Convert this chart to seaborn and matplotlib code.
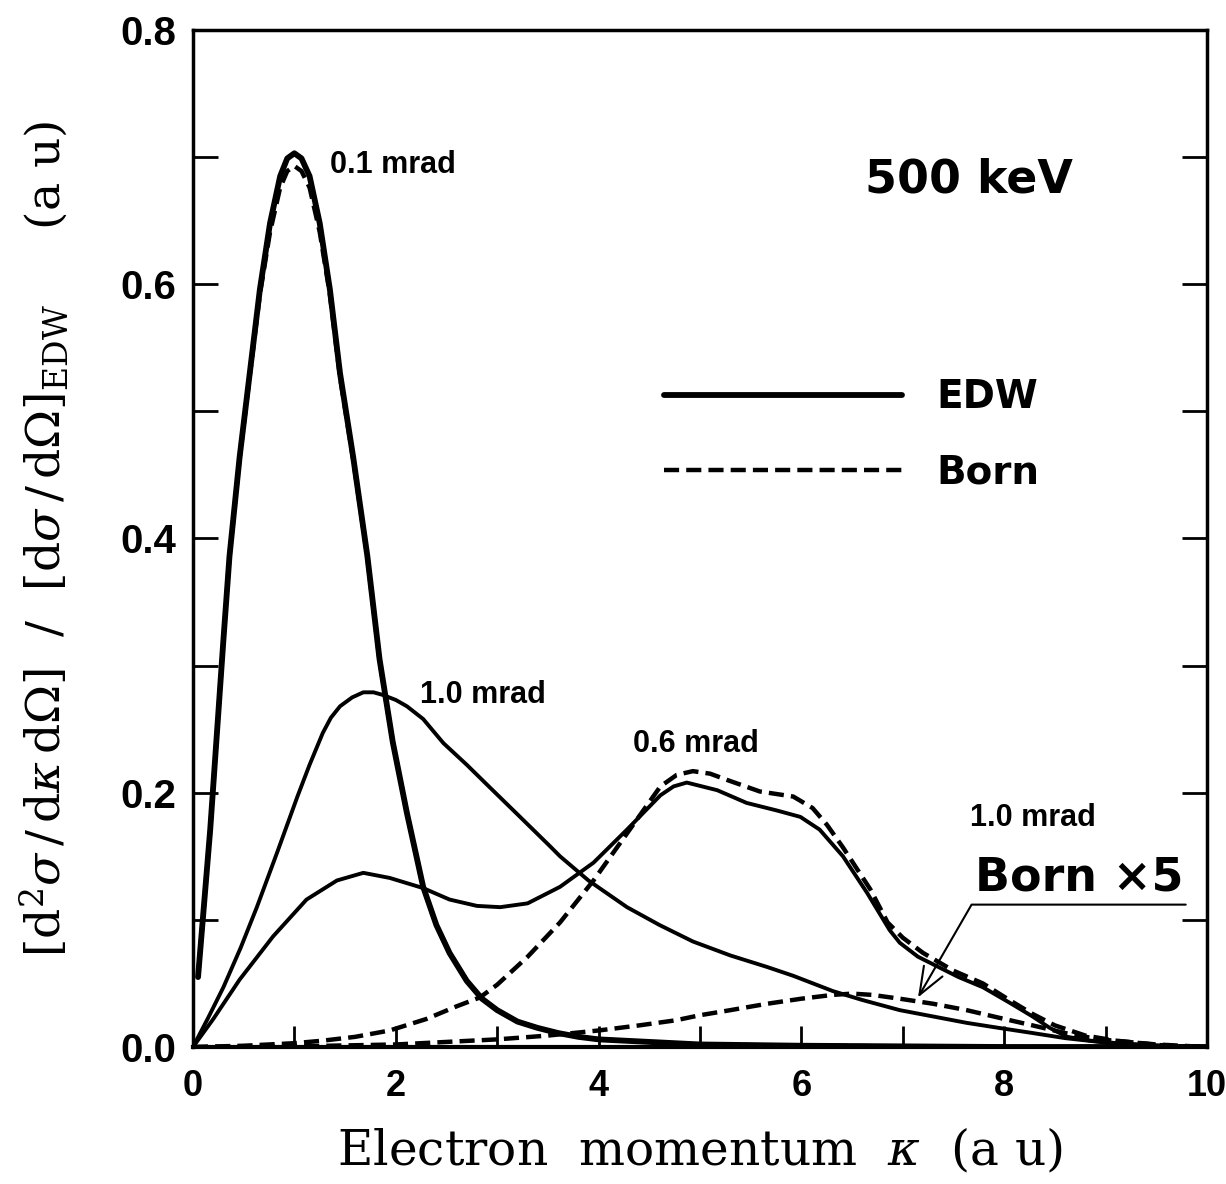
import numpy as np
import pandas as pd
import matplotlib
matplotlib.use("Agg")
import matplotlib.pyplot as plt
from matplotlib.ticker import MultipleLocator, FormatStrFormatter
import seaborn as sns

# 0.1 mrad (EDW and Born almost on top of each other)
k_01 = [0.05, 0.17, 0.30, 0.36, 0.46, 0.56, 0.66, 0.76, 0.86, 0.93, 1.0, 1.07,
        1.15, 1.25, 1.35, 1.45, 1.58, 1.72, 1.84, 1.97, 2.11, 2.27, 2.4, 2.53,
        2.7, 2.85, 3.0, 3.2, 3.4, 3.6, 3.8, 4.0, 4.5, 5.0, 6.0, 7.0, 8.0, 10.0]
edw_01 = [0.055, 0.171, 0.32, 0.386, 0.464, 0.530, 0.596, 0.648, 0.685, 0.699,
          0.703, 0.699, 0.685, 0.648, 0.596, 0.530, 0.464, 0.386, 0.305, 0.24,
          0.184, 0.126, 0.096, 0.074, 0.052, 0.038, 0.029, 0.020, 0.015, 0.011,
          0.008, 0.006, 0.004, 0.002, 0.001, 0.0005, 0.0, 0.0]
born_01 = [0.055, 0.171, 0.32, 0.386, 0.463, 0.528, 0.592, 0.641, 0.676, 0.689,
           0.693, 0.689, 0.676, 0.641, 0.592, 0.527, 0.462, 0.385, 0.304, 0.24,
           0.184, 0.126, 0.096, 0.074, 0.052, 0.038, 0.029, 0.020, 0.015, 0.011,
           0.008, 0.006, 0.004, 0.002, 0.001, 0.0005, 0.0, 0.0]

# 1.0 mrad EDW
k_10 = [0.0, 0.15, 0.30, 0.47, 0.63, 0.83, 1.03, 1.15, 1.28, 1.36, 1.45, 1.57,
        1.68, 1.78, 1.87, 2.0, 2.11, 2.27, 2.47, 2.7, 2.93, 3.2, 3.52, 3.62,
        3.9, 4.28, 4.6, 4.93, 5.3, 5.66, 5.92, 6.31, 6.6, 6.97, 7.3, 7.63,
        7.95, 8.28, 8.6, 8.94, 9.3, 9.6, 10.0]
edw_10 = [0.0, 0.023, 0.047, 0.078, 0.110, 0.153, 0.197, 0.222, 0.247, 0.259,
          0.268, 0.275, 0.279, 0.279, 0.277, 0.273, 0.268, 0.258, 0.239, 0.222,
          0.204, 0.183, 0.158, 0.150, 0.131, 0.110, 0.096, 0.083, 0.072, 0.063,
          0.056, 0.044, 0.037, 0.029, 0.024, 0.019, 0.015, 0.011, 0.007, 0.004,
          0.002, 0.001, 0.0]

# 1.0 mrad Born (x5)
k_b10 = [0.0, 1.0, 2.0, 3.0, 3.5, 4.0, 4.4, 4.76, 5.0, 5.3, 5.66, 6.0, 6.31,
         6.5, 6.7, 6.97, 7.3, 7.63, 7.95, 8.28, 8.6, 8.94, 9.5, 10.0]
born_10 = [0.0, 0.0005, 0.002, 0.006, 0.009, 0.013, 0.017, 0.021, 0.025, 0.029,
           0.034, 0.038, 0.041, 0.042, 0.041, 0.038, 0.034, 0.029, 0.023, 0.017,
           0.011, 0.006, 0.002, 0.0]

# 0.6 mrad EDW
k_06 = [0.0, 0.2, 0.46, 0.79, 1.12, 1.42, 1.68, 1.94, 2.27, 2.53, 2.8, 3.03,
        3.3, 3.62, 3.95, 4.28, 4.61, 4.74, 4.87, 5.17, 5.46, 5.76, 5.99, 6.18,
        6.41, 6.65, 6.87, 6.97, 7.15, 7.3, 7.55, 7.79, 8.05, 8.28, 8.45, 8.62,
        8.85, 9.1, 9.5, 10.0]
edw_06 = [0.0, 0.022, 0.053, 0.087, 0.116, 0.131, 0.137, 0.133, 0.125, 0.116,
          0.111, 0.110, 0.113, 0.126, 0.145, 0.171, 0.198, 0.205, 0.208, 0.202,
          0.192, 0.186, 0.181, 0.171, 0.150, 0.121, 0.092, 0.082, 0.071, 0.065,
          0.055, 0.047, 0.035, 0.024, 0.015, 0.008, 0.005, 0.003, 0.001, 0.0]

# 0.6 mrad Born
k_b06 = [0.0, 0.5, 1.0, 1.28, 1.6, 1.94, 2.3, 2.6, 2.83, 3.0, 3.3, 3.62, 3.95,
         4.28, 4.61, 4.77, 4.93, 5.1, 5.27, 5.59, 5.92, 6.11, 6.25, 6.41, 6.68,
         6.85, 7.0, 7.2, 7.5, 7.79, 8.05, 8.28, 8.5, 8.8, 9.1, 9.6, 10.0]
born_06 = [0.0, 0.001, 0.003, 0.005, 0.008, 0.013, 0.022, 0.032, 0.039, 0.049,
           0.071, 0.098, 0.131, 0.168, 0.205, 0.214, 0.217, 0.215, 0.210, 0.201,
           0.197, 0.188, 0.175, 0.157, 0.124, 0.098, 0.086, 0.074, 0.060, 0.050,
           0.037, 0.026, 0.017, 0.009, 0.005, 0.001, 0.0]

sns.set_style("ticks")
plt.rcParams["font.family"] = ["DejaVu Sans"]
plt.rcParams["mathtext.fontset"] = "dejavuserif"
plt.rcParams.update({"text.color": "black", "axes.labelcolor": "black",
                     "xtick.color": "black", "ytick.color": "black",
                     "axes.edgecolor": "black"})

fig = plt.figure(figsize=(12.26, 11.84), dpi=100)
ax = fig.add_axes([0.1574, 0.1157, 0.8271, 0.859])

dash = (0, (3.4, 1.6))
sns.lineplot(x=k_01, y=born_01, ax=ax, color="black", lw=3.2, linestyle=dash)
sns.lineplot(x=k_01, y=edw_01, ax=ax, color="black", lw=4.2)
sns.lineplot(x=k_10, y=edw_10, ax=ax, color="black", lw=2.8)
sns.lineplot(x=k_b10, y=born_10, ax=ax, color="black", lw=3.2, linestyle=dash)
sns.lineplot(x=k_b06, y=born_06, ax=ax, color="black", lw=3.2, linestyle=dash)
sns.lineplot(x=k_06, y=edw_06, ax=ax, color="black", lw=2.8)

ax.set_xlim(0, 10)
ax.set_ylim(0, 0.8)
ax.xaxis.set_major_locator(MultipleLocator(2))
ax.xaxis.set_minor_locator(MultipleLocator(1))
ax.yaxis.set_major_locator(MultipleLocator(0.2))
ax.yaxis.set_minor_locator(MultipleLocator(0.1))
ax.xaxis.set_major_formatter(FormatStrFormatter("%d"))
ax.yaxis.set_major_formatter(FormatStrFormatter("%.1f"))
ax.tick_params(which="both", direction="in", width=2, right=True, top=False)
ax.tick_params(axis="x", which="both", length=15, pad=16)
ax.tick_params(axis="y", which="both", length=18, pad=12)
for lab in ax.get_xticklabels():
    lab.set_fontfamily("Liberation Sans")
    lab.set_fontweight("bold")
    lab.set_fontsize(26)
for lab in ax.get_yticklabels():
    lab.set_fontfamily("Liberation Sans")
    lab.set_fontweight("bold")
    lab.set_fontsize(29)
for side in ["left", "right", "top", "bottom"]:
    ax.spines[side].set_linewidth(2.5)
ax.spines["bottom"].set_linewidth(3)

ax.set_xlabel(r"Electron  momentum  $\kappa$  (a u)", family="DejaVu Serif",
              fontsize=35, labelpad=16)
ax.set_ylabel(r"$[\mathrm{d}^2\sigma\,/\,\mathrm{d}\kappa\,\mathrm{d}\Omega]\ \ /\ \ "
              r"[\mathrm{d}\sigma\,/\,\mathrm{d}\Omega]_{\mathrm{EDW}}$     (a u)",
              family="DejaVu Serif", fontsize=34, labelpad=36)

lab_kw = dict(family="Liberation Sans", fontweight="bold", fontsize=22,
              va="center", ha="left")
ax.text(1.35, 0.694, "0.1 mrad", **lab_kw)
ax.text(2.24, 0.277, "1.0 mrad", **lab_kw)
ax.text(4.34, 0.238, "0.6 mrad", **lab_kw)
ax.text(7.66, 0.180, "1.0 mrad", **lab_kw)

ax.text(6.63, 0.682, "500 keV", fontsize=33, fontweight="bold", va="center", ha="left")
ax.text(7.71, 0.133, "Born \u00d75", fontsize=33, fontweight="bold", va="center", ha="left")
ax.annotate("", xy=(7.15, 0.039), xytext=(9.79, 0.112),
            arrowprops=dict(arrowstyle="->,head_length=0.9,head_width=0.35",
                            connectionstyle="angle,angleA=0,angleB=60,rad=0",
                            lw=1.5, color="black", shrinkA=0, shrinkB=0,
                            mutation_scale=22))

handles = ax.get_lines()
leg = ax.legend([handles[1], handles[0]], ["EDW", "Born"], loc="center left",
                bbox_to_anchor=(0.465, 0.602), frameon=False,
                handlelength=6.1, handletextpad=0.9, labelspacing=0.95,
                borderpad=0, borderaxespad=0,
                prop={"weight": "bold", "size": 28})

fig.savefig("out.png", dpi=100, facecolor="white")
